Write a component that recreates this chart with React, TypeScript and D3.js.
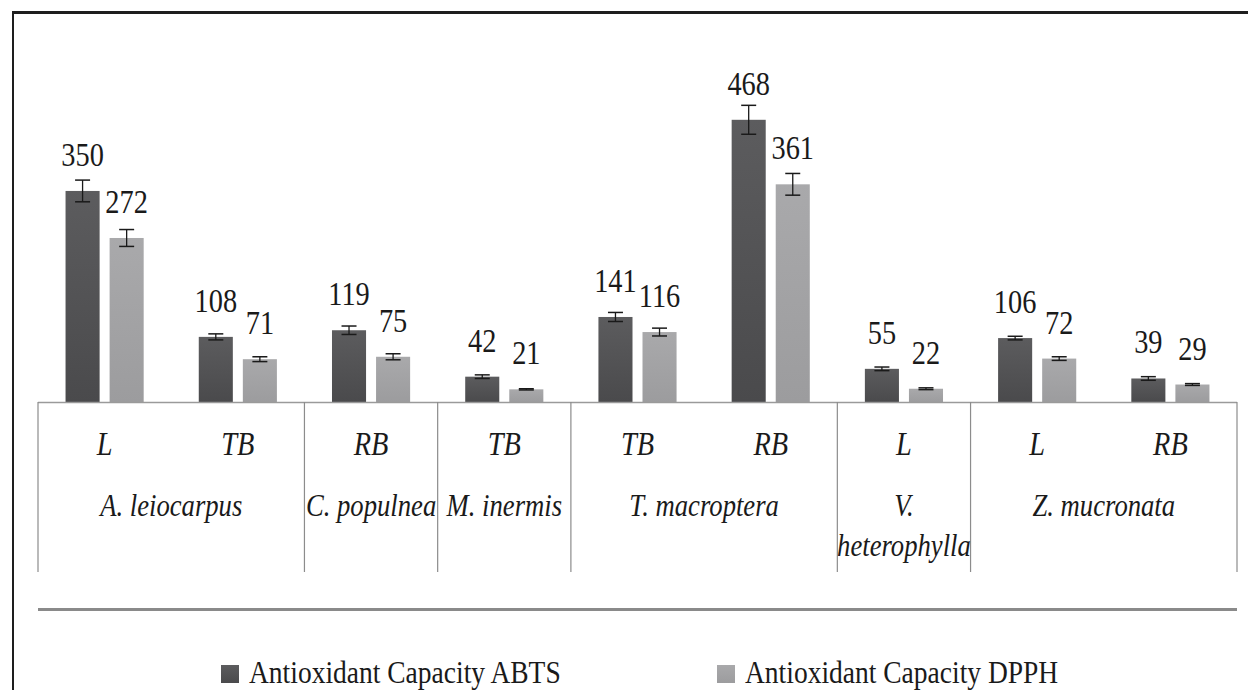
import React from "react";
import * as d3 from "d3";

// values
const parts = ["L", "TB", "RB", "TB", "TB", "RB", "L", "L", "RB"];
const species = [
  "A. leiocarpus", "A. leiocarpus", "C. populnea", "M. inermis",
  "T. macroptera", "T. macroptera", "V. heterophylla", "Z. mucronata", "Z. mucronata",
];
const abts = [350, 108, 119, 42, 141, 468, 55, 106, 39];
const dpph = [272, 71, 75, 21, 116, 361, 22, 72, 29];
const abtsErr = [18, 5, 7, 3, 7.5, 24, 3, 3, 3];
const dpphErr = [14, 4, 5, 1, 6.5, 18, 1.5, 3, 1.5];
const seriesNames = ["Antioxidant Capacity ABTS", "Antioxidant Capacity DPPH"];

const W = 1248, H = 690;
const baseY = 402;
const SQ = 0.86; // the original text is horizontally squeezed

function Txt({ x, y, size, italic = false, anchor = "middle", children }: any) {
  return (
    <g transform={`translate(${x},${y}) scale(${SQ},1)`}>
      <text
        textAnchor={anchor}
        style={{
          fontFamily: '"Liberation Serif", "Times New Roman", "DejaVu Serif", serif',
          fontSize: size + "px",
          fontStyle: italic ? "italic" : "normal",
        }}
        fill="#1a1a1a"
      >
        {children}
      </text>
    </g>
  );
}

export default function App() {
  const idx = parts.map((d, i) => i);
  const x = d3.scaleBand<number>().domain(idx).range([38, 1237]).padding(0);
  const inner = d3.scaleBand<string>()
    .domain(["abts", "dpph"])
    .range([0, x.bandwidth()])
    .paddingInner(0.227)
    .paddingOuter(0.625);
  const y = d3.scaleLinear().domain([0, 500]).range([baseY, baseY - 301.5]);

  // group consecutive species for the second axis row
  const groups: { name: string; start: number; end: number }[] = [];
  species.forEach((s, i) => {
    const last = groups[groups.length - 1];
    if (last && last.name === s) last.end = i;
    else groups.push({ name: s, start: i, end: i });
  });

  const series = [
    { key: "abts", vals: abts, err: abtsErr, fill: "url(#gDark)" },
    { key: "dpph", vals: dpph, err: dpphErr, fill: "url(#gLight)" },
  ];

  const bw = inner.bandwidth();
  const axisBottom = 572;

  return (
    <svg width={W} height={H} style={{ position: "absolute", left: 0, top: 0, background: "#fff" }}>
      <defs>
        <linearGradient id="gDark" x1="0" y1="0" x2="0" y2="1">
          <stop offset="0%" stopColor="#5c5c5e" />
          <stop offset="100%" stopColor="#4a4a4c" />
        </linearGradient>
        <linearGradient id="gLight" x1="0" y1="0" x2="0" y2="1">
          <stop offset="0%" stopColor="#a9a9ab" />
          <stop offset="100%" stopColor="#9c9c9e" />
        </linearGradient>
      </defs>

      {/* frame */}
      <line x1={12} x2={W} y1={12.5} y2={12.5} stroke="#1e1e1e" strokeWidth={3} />
      <line x1={13} x2={13} y1={11} y2={H} stroke="#1e1e1e" strokeWidth={2} />

      {/* bars, error bars, value labels */}
      {series.map((s) =>
        s.vals.map((v, i) => {
          const bx = (x(i) as number) + (inner(s.key) as number);
          const cx = bx + bw / 2;
          const top = y(v);
          const eTop = y(v + s.err[i]);
          const eBot = y(v - s.err[i]);
          return (
            <g key={s.key + i}>
              <rect x={bx} y={top} width={bw} height={baseY - top} fill={s.fill} />
              <line x1={cx} x2={cx} y1={eTop} y2={eBot} stroke="#1a1a1a" strokeWidth={1.3} />
              <line x1={cx - 7.5} x2={cx + 7.5} y1={eTop} y2={eTop} stroke="#1a1a1a" strokeWidth={1.5} />
              <line x1={cx - 7.5} x2={cx + 7.5} y1={eBot} y2={eBot} stroke="#1a1a1a" strokeWidth={1.5} />
              <Txt x={cx} y={top - 25} size={33}>{v}</Txt>
            </g>
          );
        })
      )}

      {/* category axis */}
      <line x1={38} x2={1237} y1={baseY + 0.5} y2={baseY + 0.5} stroke="#9a9a9a" strokeWidth={1.5} />
      {[groups[0].start, ...groups.map((g) => g.end + 1)].map((k) => {
        const gx = k === parts.length ? 1237 : (x(k) as number);
        return (
          <line key={"sep" + k} x1={gx} x2={gx} y1={baseY} y2={axisBottom} stroke="#8c8c8c" strokeWidth={1.2} />
        );
      })}
      {parts.map((p, i) => (
        <Txt key={"p" + i} x={(x(i) as number) + x.bandwidth() / 2} y={455} size={33} italic>
          {p}
        </Txt>
      ))}
      {groups.map((g) => {
        const gx0 = x(g.start) as number;
        const gx1 = (x(g.end) as number) + x.bandwidth();
        const cx = (gx0 + gx1) / 2;
        const words = g.name.split(" ");
        if (g.end === g.start && g.name.length > 13) {
          return (
            <g key={g.name}>
              <Txt x={cx} y={516} size={31} italic>{words[0]}</Txt>
              <Txt x={cx} y={556} size={31} italic>{words.slice(1).join(" ")}</Txt>
            </g>
          );
        }
        return (
          <Txt key={g.name} x={cx} y={516} size={31} italic>{g.name}</Txt>
        );
      })}

      {/* lower rule */}
      <line x1={38} x2={1237} y1={609.5} y2={609.5} stroke="#8a8a8a" strokeWidth={3} />

      {/* legend */}
      {seriesNames.map((n, i) => {
        const lx = i === 0 ? 221 : 717;
        return (
          <g key={n}>
            <rect x={lx} y={665} width={18} height={18} fill={i === 0 ? "url(#gDark)" : "url(#gLight)"} />
            <Txt x={lx + 28} y={683} size={32} anchor="start">{n}</Txt>
          </g>
        );
      })}
    </svg>
  );
}
